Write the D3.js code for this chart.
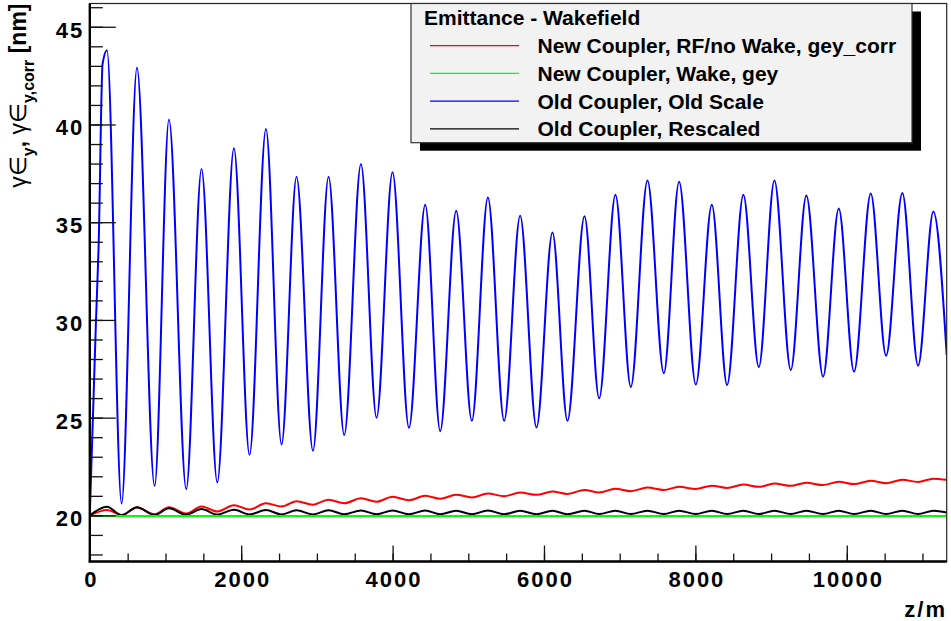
<!DOCTYPE html>
<html>
<head>
<meta charset="utf-8">
<script src="https://cdn.jsdelivr.net/npm/d3@7"></script>
<style>
body { margin: 0; background: #fff; }
svg { display: block; }
text { font-family: "Liberation Sans", Arial, Helvetica, sans-serif; }
</style>
</head>
<body>
<div id="chart"></div>
<script>
// tick labels
var xTicks = [0, 2000, 4000, 6000, 8000, 10000];
var yTicks = [20, 25, 30, 35, 40, 45];

// series: [z (m), emittance (nm)]
var oldScale = [[0,20.0],[82,30.0],[116,33.7],[169,43.1],[227,43.8],[420,20.61],[623,42.9],[856,21.51],
  [1046,40.25],[1274,21.34],[1476,37.72],[1684,21.69],[1904,38.78],[2110,23.10],[2327,39.77],
  [2533,23.63],[2731,37.33],[2948,23.31],[3154,37.33],[3361,24.11],[3582,37.98],[3788,25.00],
  [3999,37.55],[4216,24.48],[4431,35.89],[4629,24.31],[4840,35.59],[5047,24.84],[5259,36.27],
  [5474,24.84],[5685,35.33],[5901,24.50],[6112,34.47],[6310,24.84],[6535,35.30],[6729,25.99],
  [6944,36.41],[7147,26.57],[7367,37.14],[7583,27.27],[7785,37.07],[8006,26.69],[8217,35.89],
  [8419,26.67],[8634,36.41],[8838,27.59],[9044,37.14],[9260,27.44],[9466,36.37],[9687,27.10],
  [9894,35.70],[10096,27.35],[10317,36.47],[10519,28.17],[10734,36.49],[10942,27.66],[11144,35.55],
  [11320,28.2]];

var newRF = [[0,20.0],[227,20.28],[420,20.02],[623,20.40],[856,20.06],[1046,20.42],[1274,20.10],
  [1476,20.45],[1684,20.20],[1904,20.52],[2110,20.30],[2327,20.62],[2533,20.45],[2731,20.72],
  [2948,20.55],[3154,20.80],[3361,20.62],[3582,20.88],[3788,20.70],[3999,20.95],[4216,20.78],
  [4431,21.0],[4629,20.85],[4840,21.06],[5047,20.92],[5259,21.12],[5474,20.98],[5685,21.17],
  [5901,21.05],[6112,21.22],[6310,21.10],[6535,21.30],[6729,21.17],[6944,21.36],[7147,21.24],
  [7367,21.42],[7583,21.30],[7785,21.46],[8006,21.35],[8217,21.52],[8419,21.40],[8634,21.58],
  [8838,21.46],[9044,21.63],[9260,21.51],[9466,21.67],[9687,21.55],[9894,21.72],[10096,21.60],
  [10317,21.77],[10519,21.65],[10734,21.82],[10942,21.71],[11144,21.88],[11320,21.82]];

var newWake = [[0,19.97],[11320,19.97]];

var oldRescaled = [[0,20.0],[227,20.44],[420,20.01],[623,20.42],[856,20.02],[1046,20.36],[1274,20.03],
  [1476,20.32],[1684,20.04],[1904,20.29],[2110,20.05],[2327,20.27],[2533,20.05],[2731,20.26],
  [2948,20.05],[3154,20.26],[3361,20.06],[3582,20.25],[3788,20.06],[3999,20.25],[4216,20.06],
  [4431,20.25],[4629,20.06],[4840,20.24],[5047,20.06],[5259,20.25],[5474,20.06],[5685,20.24],
  [5901,20.06],[6112,20.24],[6310,20.06],[6535,20.24],[6729,20.07],[6944,20.24],[7147,20.07],
  [7367,20.24],[7583,20.07],[7785,20.24],[8006,20.07],[8217,20.24],[8419,20.07],[8634,20.24],
  [8838,20.07],[9044,20.24],[9260,20.07],[9466,20.24],[9687,20.07],[9894,20.24],[10096,20.07],
  [10317,20.24],[10519,20.07],[10734,20.24],[10942,20.07],[11144,20.24],[11320,20.15]];

var legendTitle = "Emittance - Wakefield";
var seriesNames = ["New Coupler, RF/no Wake, gey_corr", "New Coupler, Wake, gey",
                   "Old Coupler, Old Scale", "Old Coupler, Rescaled"];
var seriesColors = ["#ff0000", "#00ff00", "#0000ff", "#000000"];
var seriesData = [newRF, newWake, oldScale, oldRescaled];

var width = 951, height = 621,
    x0 = 89.8, x1 = 946.7, y0 = 561.5, y1 = 3.5;

var svg = d3.select("#chart").append("svg")
    .attr("width", width)
    .attr("height", height);

var xScale = d3.scaleLinear().domain([0, 11320]).range([x0, x1]);
var yScale = d3.scaleLinear().domain([17.64, 46.19]).range([y0, y1]);

svg.append("clipPath").attr("id", "plot")
  .append("rect").attr("x", x0).attr("y", y1).attr("width", x1 - x0).attr("height", y0 - y1);

// curves: draw blue first so the small ones sit on top
var line = d3.line()
    .x(function(d) { return xScale(d[0]); })
    .y(function(d) { return yScale(d[1]); })
    .curve(d3.curveMonotoneX);

var order = [2, 0, 3, 1];
var curves = svg.append("g").attr("clip-path", "url(#plot)");
order.forEach(function(i) {
  curves.append("path")
    .datum(seriesData[i])
    .attr("fill", "none")
    .attr("stroke", seriesColors[i])
    .attr("stroke-width", 2)
    .attr("d", line);
});

// frame
svg.append("rect")
  .attr("x", x0).attr("y", y1)
  .attr("width", x1 - x0).attr("height", y0 - y1)
  .attr("fill", "none").attr("stroke", "#222").attr("stroke-width", 1.2);

// y axis: minor then major ticks, inward
var yMinor = d3.range(18, 47, 1);
svg.append("g")
  .attr("transform", "translate(" + x0 + ",0)")
  .call(d3.axisLeft(yScale).tickValues(yMinor).tickSize(-13).tickFormat(""))
  .call(function(g) { g.select(".domain").remove(); });

var yAxis = svg.append("g")
  .attr("transform", "translate(" + x0 + ",0)")
  .call(d3.axisLeft(yScale).tickValues(yTicks).tickSize(-26).tickPadding(5).tickFormat(d3.format("d")));
yAxis.select(".domain").remove();
yAxis.selectAll("text").attr("dy", "10.5").attr("x", -5.5);

// x axis
var xMinor = d3.range(0, 11320, 500);
svg.append("g")
  .attr("transform", "translate(0," + y0 + ")")
  .call(d3.axisBottom(xScale).tickValues(xMinor).tickSize(-8).tickFormat(""))
  .call(function(g) { g.select(".domain").remove(); });

var xAxis = svg.append("g")
  .attr("transform", "translate(0," + y0 + ")")
  .call(d3.axisBottom(xScale).tickValues(xTicks).tickSize(-16).tickFormat(d3.format("d")));
xAxis.select(".domain").remove();
xAxis.selectAll("text").attr("y", 25).attr("dy", 0).attr("dx", 1);

svg.selectAll(".tick line").attr("stroke", "#111").attr("stroke-width", 1.3);
svg.selectAll(".tick text")
  .attr("fill", "#000")
  .style("font-family", "'Liberation Sans', Arial, sans-serif")
  .style("font-size", "22px")
  .style("font-weight", "bold")
  .style("letter-spacing", "2px");

// thick axis lines
svg.append("line").attr("x1", x0).attr("x2", x0).attr("y1", y1).attr("y2", y0 + 1)
  .attr("stroke", "#000").attr("stroke-width", 2.4);
svg.append("line").attr("x1", x0 - 1).attr("x2", x1).attr("y1", y0).attr("y2", y0)
  .attr("stroke", "#000").attr("stroke-width", 2.4);

// axis titles
svg.append("text")
  .attr("x", 947).attr("y", 616.5)
  .attr("text-anchor", "end")
  .style("font-size", "22px").style("font-weight", "bold").style("letter-spacing", "2px")
  .text("z/m");

var yTitle = svg.append("text")
  .attr("transform", "translate(25.5,3.5) rotate(-90)")
  .attr("text-anchor", "end")
  .style("font-size", "23px");
yTitle.append("tspan").style("font-weight", "normal").text("γ∈");
yTitle.append("tspan").attr("dy", 8).style("font-size", "16px").style("font-weight", "bold").text("y");
yTitle.append("tspan").attr("dy", -8).style("font-weight", "bold").text(", ");
yTitle.append("tspan").style("font-weight", "normal").text("γ∈");
yTitle.append("tspan").attr("dy", 8).style("font-size", "16px").style("font-weight", "bold").text("y,corr");
yTitle.append("tspan").attr("dy", -8).style("font-weight", "bold").text(" [nm]");

// legend with shadow
var lg = {x: 411, y: 3.5, w: 501, h: 139.2};
svg.append("rect")
  .attr("x", lg.x + 9).attr("y", lg.y + 8).attr("width", lg.w).attr("height", lg.h)
  .attr("fill", "#000");
svg.append("rect")
  .attr("x", lg.x).attr("y", lg.y).attr("width", lg.w).attr("height", lg.h)
  .attr("fill", "#f2f2f2").attr("stroke", "#333").attr("stroke-width", 1.2);

svg.append("text")
  .attr("x", 424).attr("y", 25)
  .style("font-size", "21px").style("font-weight", "bold")
  .text(legendTitle);

var entries = svg.append("g").selectAll("g")
  .data(seriesNames)
  .join("g")
  .attr("transform", function(d, i) { return "translate(0," + (45.7 + i * 27.7) + ")"; });

entries.append("line")
  .attr("x1", 430).attr("x2", 519)
  .attr("stroke", function(d, i) { return seriesColors[i]; })
  .attr("stroke-width", 1.2);

entries.append("text")
  .attr("x", 537.5).attr("y", 7.6)
  .style("font-size", "21px").style("font-weight", "bold")
  .text(function(d) { return d; });
</script>
</body>
</html>
